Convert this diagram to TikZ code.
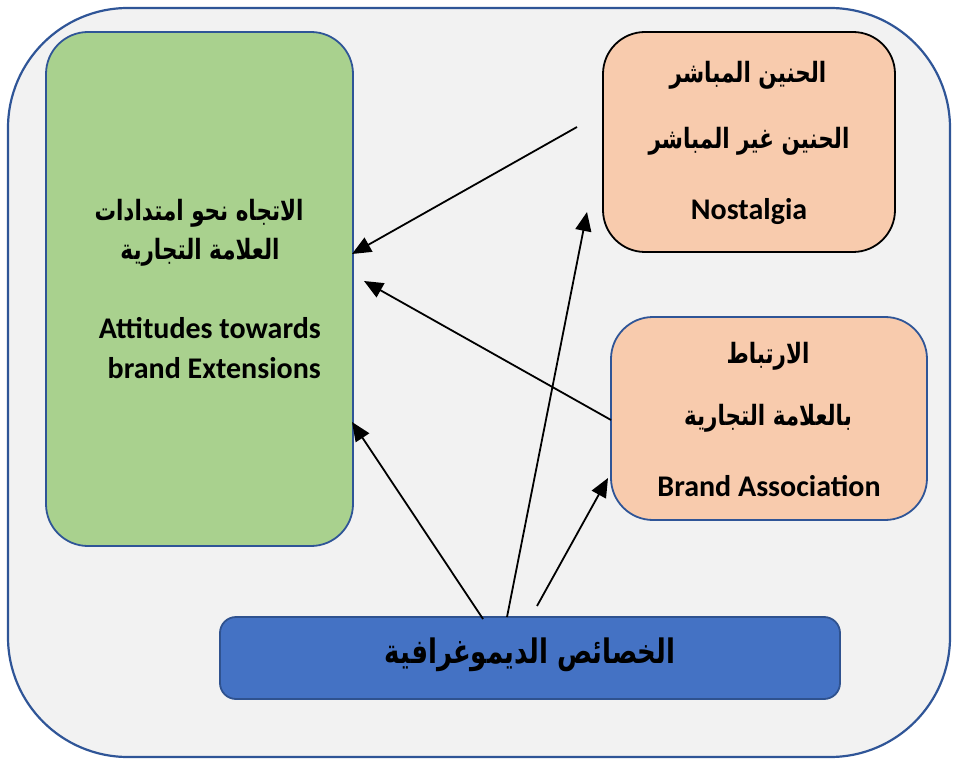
\documentclass[tikz,border=0pt]{standalone}
\usepackage{fontspec}
\setmainfont{Carlito}
\newfontfamily\arabicfont[Script=Arabic]{DejaVu Sans}
\TeXXeTstate=1
\usetikzlibrary{arrows.meta}
\definecolor{outerfill}{HTML}{F2F2F2}
\definecolor{blueline}{HTML}{2F5597}
\definecolor{greenfill}{HTML}{A9D18E}
\definecolor{peach}{HTML}{F8CBAD}
\definecolor{bluefill}{HTML}{4472C4}
\definecolor{darkblue}{HTML}{2F528F}
\newcommand{\tallar}[1]{\scalebox{1}[1.3]{\beginR #1\endR}}
\tikzset{
  panel/.style={draw=blueline, line width=2.2pt, fill=outerfill, rounded corners=120pt},
  boxbase/.style={line width=1.8pt, rounded corners=42pt, inner sep=0pt},
  greenbox/.style={boxbase, draw=blueline, fill=greenfill},
  peachblack/.style={boxbase, draw=black, fill=peach},
  peachblue/.style={boxbase, draw=blueline, fill=peach},
  demobox/.style={line width=1.8pt, rounded corners=16pt, draw=darkblue, fill=bluefill},
  artext/.style={font=\arabicfont\bfseries\fontsize{21.5}{26}\selectfont, inner sep=0pt},
  bigartext/.style={font=\arabicfont\bfseries\fontsize{26}{31}\selectfont, inner sep=0pt},
  entext/.style={font=\bfseries\fontsize{30}{36}\selectfont, inner sep=0pt},
  link/.style={line width=1.8pt, -{Triangle[length=19pt,width=16pt]}}
}
\begin{document}
\begin{tikzpicture}[x=1pt,y=-1pt]
\useasboundingbox (0,0) rectangle (953,759);
\draw[panel] (8,8) rectangle (950,757);
\draw[greenbox] (46,32) rectangle (353,546);
\draw[peachblack] (603,32) rectangle (895,252);
\draw[peachblue] (611,317) rectangle (927,520);
\draw[demobox] (220,617) rectangle (840,699);
% texts
\node[artext] (g1) at (199,213) {\tallar{الاتجاه نحو امتدادات}};
\node[artext] (g2) at (200,252) {\tallar{العلامة التجارية}};
\node[entext, anchor=east] (g3) at (321,328) {Attitudes towards};
\node[entext, anchor=east] (g4) at (321,368) {brand Extensions};
\node[artext] (n1) at (748,75) {\tallar{الحنين المباشر}};
\node[artext] (n2) at (749,141) {\tallar{الحنين غير المباشر}};
\node[entext] (n3) at (749,212) {Nostalgia};
\node[artext] (b1) at (768,356) {\tallar{الارتباط}};
\node[artext] (b2) at (768,418) {\tallar{بالعلامة التجارية}};
\node[entext] (b3) at (769,486) {Brand Association};
\node[bigartext] (d1) at (530,655) {\tallar{الخصائص الديموغرافية}};
% connector end points
\coordinate (s1) at (577,127);
\coordinate (e1) at (352,254);
\coordinate (s2) at (611,420);
\coordinate (e2) at (364,281);
\coordinate (s3) at (483,619);
\coordinate (e3) at (352,422);
\coordinate (s4) at (507,617);
\coordinate (e4) at (587,212);
\coordinate (s5) at (537,606);
\coordinate (e5) at (608,478);
\draw[link] (s1) -- (e1);
\draw[link] (s2) -- (e2);
\draw[link] (s3) -- (e3);
\draw[link] (s4) -- (e4);
\draw[link] (s5) -- (e5);
\end{tikzpicture}
\end{document}
